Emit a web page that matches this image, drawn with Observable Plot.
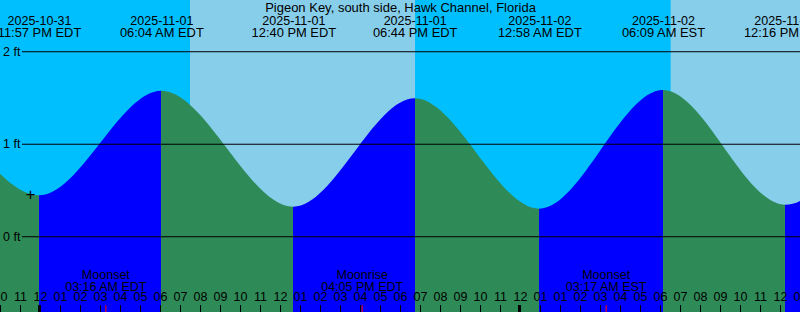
<!DOCTYPE html>
<html>
<head>
<meta charset="utf-8">
<script src="https://cdn.jsdelivr.net/npm/d3@7"></script>
<script src="https://cdn.jsdelivr.net/npm/@observablehq/plot@0.6"></script>
<style>
html, body { margin: 0; padding: 0; overflow: hidden; background: #fff; }
</style>
</head>
<body>
<div id="chart"></div>
<script>
// ---- data ----
const title = "Pigeon Key, south side, Hawk Channel, Florida";

// tide extremes (the first two and last two lie outside the visible window, estimated)
const tideTimes  = ["2025-10-31T11:10:00-04:00", "2025-10-31T17:36:00-04:00", "2025-10-31T23:57:00-04:00",
                    "2025-11-01T06:04:00-04:00", "2025-11-01T12:40:00-04:00", "2025-11-01T18:44:00-04:00",
                    "2025-11-02T00:58:00-04:00", "2025-11-02T06:09:00-05:00", "2025-11-02T12:16:00-05:00",
                    "2025-11-02T18:35:00-05:00", "2025-11-03T00:50:00-05:00"];
const tideLevels = [0.35, 1.48, 0.443, 1.574, 0.319, 1.491, 0.298, 1.581, 0.34, 1.45, 0.30];
const tideKinds  = ["Low", "High", "Low", "High", "Low", "High", "Low", "High", "Low", "High", "Low"];
const tideDates  = ["", "", "2025-10-31", "2025-11-01", "2025-11-01", "2025-11-01", "2025-11-02", "2025-11-02", "2025-11-02", "", ""];
const tideClocks = ["", "", "11:57 PM EDT", "06:04 AM EDT", "12:40 PM EDT", "06:44 PM EDT", "12:58 AM EDT", "06:09 AM EST", "12:16 PM EST", "", ""];

// daylight / night bands
const skyStarts = ["2025-10-31T22:00:00-04:00", "2025-11-01T07:30:00-04:00", "2025-11-01T18:45:00-04:00", "2025-11-02T06:32:00-05:00"];
const skyEnds   = ["2025-11-01T07:30:00-04:00", "2025-11-01T18:45:00-04:00", "2025-11-02T06:32:00-05:00", "2025-11-02T13:00:00-05:00"];
const skyKinds  = ["night", "day", "night", "day"];

// moon events
const moonTimes  = ["2025-11-01T03:16:00-04:00", "2025-11-01T16:05:00-04:00", "2025-11-02T03:17:00-05:00"];
const moonEvents = ["Moonset", "Moonrise", "Moonset"];
const moonClocks = ["03:16 AM EDT", "04:05 PM EDT", "03:17 AM EST"];

// hourly tick labels (local time, DST ends 2025-11-02)
const hourStart  = "2025-10-31T22:00:00-04:00";
const hourLabels = ["10","11","12","01","02","03","04","05","06","07","08","09","10","11","12",
                    "01","02","03","04","05","06","07","08","09","10","11","12",
                    "01","01","02","03","04","05","06","07","08","09","10","11","12","01"];
const midnights  = ["2025-11-01T00:00:00-04:00", "2025-11-02T00:00:00-04:00"];

// level grid
const levelValues = [0, 1, 2];
const levelLabels = ["0 ft", "1 ft", "2 ft"];

// current-time marker
const markTime  = "2025-10-31T23:30:00-04:00";
const markLevel = 0.455;

// ---- colours ----
const skyColors = {night: "#00BFFF", day: "#87CEEB"};
const floodColor = "#0000FF";
const ebbColor = "#2E8B57";

// ---- tables ----
const tide = tideTimes.map((t, i) => ({time: new Date(t), level: tideLevels[i], kind: tideKinds[i], date: tideDates[i], clock: tideClocks[i]}));
const labeled = tide.filter(d => d.date !== "");
const sky = skyStarts.map((s, i) => ({start: new Date(s), end: new Date(skyEnds[i]), kind: skyKinds[i]}));
const moon = moonTimes.map((t, i) => ({time: new Date(t), event: moonEvents[i], clock: moonClocks[i]}));
const t0 = new Date(hourStart);
const hours = hourLabels.map((l, i) => ({time: d3.utcHour.offset(t0, i), label: l}));
const mids = midnights.map(t => ({time: new Date(t)}));
const levels = levelValues.map((v, i) => ({v, label: levelLabels[i]}));

const W = 800, H = 312;
const xDomain = [new Date(skyStarts[0]), new Date(skyEnds[skyEnds.length - 1])];
const yDomain = [-0.819, 2.554];

const plot = Plot.plot({
  width: W,
  height: H,
  margin: 0,
  x: {type: "utc", domain: xDomain, axis: null},
  y: {domain: yDomain, axis: null},
  color: {type: "identity"},
  style: {fontFamily: "'Liberation Sans', Arial, sans-serif", fontSize: "12.5px", background: "#00BFFF", color: "black"},
  marks: [
    Plot.rect(sky, {x1: "start", x2: "end", fill: d => skyColors[d.kind]}),
    Plot.areaY(tide, {x: "time", y1: yDomain[0], y2: "level", curve: "monotone-x", fill: "url(#phaseGrad)", clip: true}),
    Plot.ruleY(levels, {y: "v", stroke: "black", insetLeft: 22}),
    Plot.text(levels, {y: "v", text: "label", frameAnchor: "left", dx: 2.5, textAnchor: "start", fill: "black"}),
    Plot.text([title], {text: d => d, frameAnchor: "top", dy: 11, lineAnchor: "bottom", fontSize: 13, fill: "black"}),
    Plot.text(labeled, {x: "time", text: "date", frameAnchor: "top", dy: 24, lineAnchor: "bottom", fill: "black"}),
    Plot.text(labeled, {x: "time", text: "clock", frameAnchor: "top", dy: 36, lineAnchor: "bottom", fontSize: 12.9, fill: "black"}),
    Plot.text([{time: new Date(markTime), level: markLevel}], {x: "time", y: "level", text: () => "+", fontSize: 17, fill: "black"}),
    Plot.text(moon, {x: "time", text: "event", frameAnchor: "bottom", dy: -33.7, lineAnchor: "bottom", fill: "black"}),
    Plot.text(moon, {x: "time", text: "clock", frameAnchor: "bottom", dy: -22, lineAnchor: "bottom", fill: "black"}),
    Plot.text(hours, {x: "time", text: "label", frameAnchor: "bottom", dy: -11.3, lineAnchor: "bottom", fill: "black"}),
    Plot.ruleX(hours, {x: "time", stroke: "black", insetTop: 305}),
    Plot.ruleX(mids, {x: "time", stroke: "black", strokeWidth: 3, dx: -1, insetTop: 305}),
    Plot.ruleX(moon, {x: "time", stroke: "#FF0000", insetTop: 305})
  ]
});

// gradient for rising (flood) / falling (ebb) water, stops placed through the x scale
const xs = plot.scale("x");
const svg = d3.select(plot);
const defs = svg.insert("defs", ":first-child");
const grad = defs.append("linearGradient")
  .attr("id", "phaseGrad")
  .attr("gradientUnits", "userSpaceOnUse")
  .attr("x1", 0).attr("x2", W).attr("y1", 0).attr("y2", 0);
tide.forEach(d => {
  const o = Math.max(0, Math.min(1, xs.apply(d.time) / W));
  const before = d.kind === "Low" ? ebbColor : floodColor;
  const after = d.kind === "Low" ? floodColor : ebbColor;
  grad.append("stop").attr("offset", o).attr("stop-color", before);
  grad.append("stop").attr("offset", o).attr("stop-color", after);
});

document.getElementById("chart").appendChild(plot);
</script>
</body>
</html>
